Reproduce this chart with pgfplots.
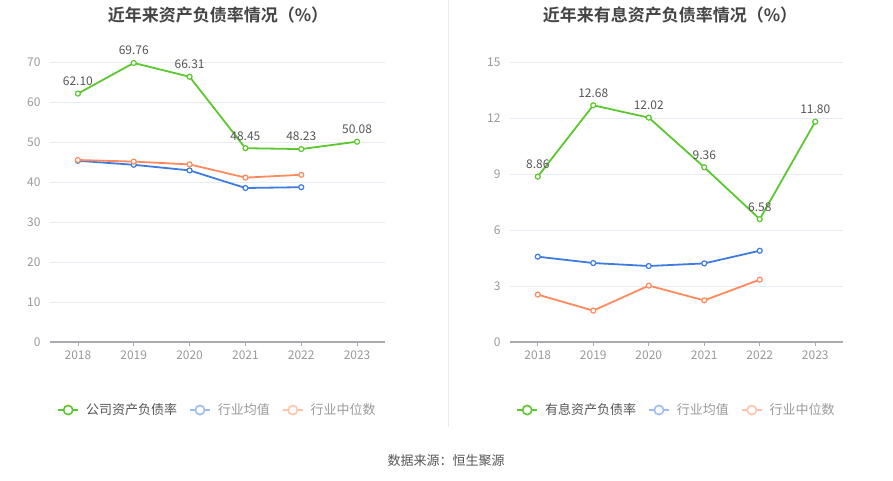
\documentclass[border=0pt]{standalone}
\usepackage{pgfplots}
\pgfplotsset{compat=1.18}
\usepackage{fontspec}
\setmainfont{Noto Sans CJK SC}[BoldFont={Noto Sans CJK SC Bold}]
\definecolor{cgreen}{HTML}{5CC72F}
\definecolor{cblue}{HTML}{3F7CE0}
\definecolor{corange}{HTML}{FF8A5E}
\definecolor{lblue}{HTML}{9DBCF0}
\definecolor{lorange}{HTML}{FFC4AC}
\definecolor{tickgray}{HTML}{999999}
\definecolor{axisgray}{HTML}{A8ABB3}
\definecolor{gridc}{HTML}{E8EBF2}
\definecolor{titlegray}{HTML}{444444}
\definecolor{labelgray}{HTML}{555555}
\definecolor{leggray}{HTML}{999999}
\definecolor{legdark}{HTML}{555555}
\pgfplotsset{
  mystyle/.style={
    scale only axis, height=280pt,
    xmin=-0.5, xmax=5.5, ymin=0,
    xtick={0,1,2,3,4,5}, xticklabels={2018,2019,2020,2021,2022,2023},
    axis x line*=bottom, axis y line*=left,
    x axis line style={draw=axisgray, line width=1.2pt, -},
    y axis line style={draw=none},
    ymajorgrids, grid style={gridc, line width=0.8pt},
    ytick style={draw=none},
    xtick style={draw=axisgray, line width=0.8pt},
    tick align=outside, major tick length=4pt,
    tick label style={font=\fontsize{12}{14}\selectfont, text=tickgray},
    yticklabel style={xshift=-2pt},
    xticklabel style={yshift=-1pt},
    /pgf/number format/assume math mode=true,
    clip=false,
    legend style={draw=none, fill=none, legend columns=-1, anchor=center,
      font=\fontsize{13}{15}\selectfont,
      /tikz/every odd column/.append style={column sep=5pt},
      /tikz/every even column/.append style={column sep=10pt}},
  },
  mainline/.style={line width=1.8pt, mark=*, mark size=2.5pt,
    mark options={fill=white, line width=1.2pt}},
  labelled/.style={nodes near coords, point meta=explicit symbolic,
    every node near coord/.append style={font=\fontsize{12}{14}\selectfont,
      text=labelgray, anchor=south, yshift=4pt}},
  myleg/.style={legend image code/.code={
    \draw[line width=1.8pt] (0pt,0pt) -- (20pt,0pt);
    \draw[line width=1.6pt, fill=white] (10pt,0pt) circle (4.6pt);}},
}
\begin{document}
\begin{tikzpicture}
\useasboundingbox (0,0) rectangle (893pt,481pt);
\draw[gridc, line width=0.8pt] (448pt,54pt) -- (448pt,481pt);
\node[font=\bfseries\fontsize{17}{20}\selectfont, text=titlegray] at (218pt,466pt) {近年来资产负债率情况（\%）};
\node[font=\bfseries\fontsize{17}{20}\selectfont, text=titlegray] at (670pt,466pt) {近年来有息资产负债率情况（\%）};
\node[font=\fontsize{13}{15}\selectfont, text=labelgray] at (446pt,20pt) {数据来源：恒生聚源};

\begin{axis}[mystyle, at={(50pt,139pt)}, anchor=south west, width=335pt,
  ymax=70, ytick={0,10,...,70},
  legend style={at={(0.5,-0.243)}}]
\addplot[cgreen, mainline, labelled, forget plot] coordinates {
  (0,62.10)[62.10] (1,69.76)[69.76] (2,66.31)[66.31] (3,48.45)[48.45] (4,48.23)[48.23] (5,50.08)[50.08]};
\addplot[cblue, mainline, forget plot] coordinates {
  (0,45.3) (1,44.3) (2,42.9) (3,38.5) (4,38.7)};
\addplot[corange, mainline, forget plot] coordinates {
  (0,45.5) (1,45.1) (2,44.4) (3,41.1) (4,41.8)};
\addlegendimage{cgreen, myleg}
\addlegendentry{\textcolor{legdark}{公司资产负债率}}
\addlegendimage{lblue, myleg}
\addlegendentry{\textcolor{leggray}{行业均值}}
\addlegendimage{lorange, myleg}
\addlegendentry{\textcolor{leggray}{行业中位数}}
\end{axis}

\begin{axis}[mystyle, at={(510pt,139pt)}, anchor=south west, width=333pt,
  ymax=15, ytick={0,3,...,15},
  legend style={at={(0.5,-0.243)}}]
\addplot[cgreen, mainline, labelled, forget plot] coordinates {
  (0,8.86)[8.86] (1,12.68)[12.68] (2,12.02)[12.02] (3,9.36)[9.36] (4,6.58)[6.58] (5,11.80)[11.80]};
\addplot[cblue, mainline, forget plot] coordinates {
  (0,4.57) (1,4.23) (2,4.07) (3,4.21) (4,4.89)};
\addplot[corange, mainline, forget plot] coordinates {
  (0,2.54) (1,1.68) (2,3.02) (3,2.23) (4,3.34)};
\addlegendimage{cgreen, myleg}
\addlegendentry{\textcolor{legdark}{有息资产负债率}}
\addlegendimage{lblue, myleg}
\addlegendentry{\textcolor{leggray}{行业均值}}
\addlegendimage{lorange, myleg}
\addlegendentry{\textcolor{leggray}{行业中位数}}
\end{axis}
\end{tikzpicture}
\end{document}
